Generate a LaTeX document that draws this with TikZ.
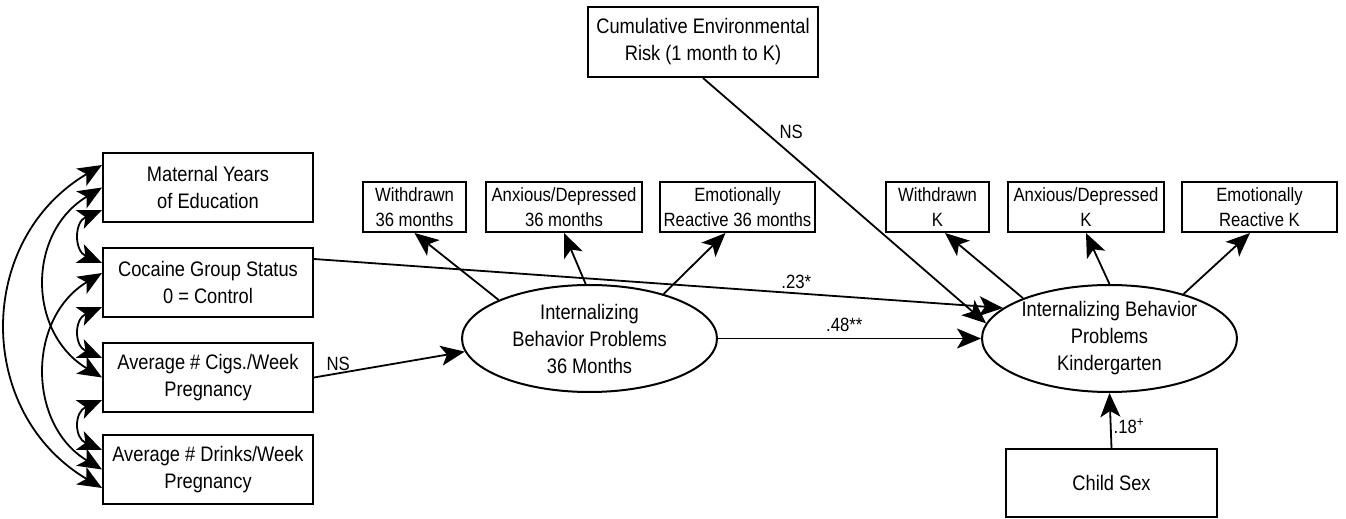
\documentclass[tikz,border=0pt]{standalone}
\usepackage{fontspec}
\setmainfont{Liberation Sans}[FakeStretch=0.87]
\usetikzlibrary{shapes.geometric,arrows.meta}

\begin{document}
\begin{tikzpicture}[x=0.5pt,y=-0.5pt]
	\tikzset{varbox/.style={draw,line width=1pt,align=center,inner sep=0pt,minimum width=105pt,minimum height=34.5pt,font=\fontsize{10.5}{13.5}\selectfont}}
	\tikzset{indbox/.style={draw,line width=1pt,align=center,inner sep=0pt,minimum height=25pt,font=\fontsize{9.6}{12.2}\selectfont}}
	\tikzset{latent/.style={draw,ellipse,line width=1pt,align=center,inner sep=0pt,minimum width=127.5pt,minimum height=53.5pt,font=\fontsize{10.5}{13.5}\selectfont}}
	\tikzset{semedge/.style={-{Stealth[length=12pt,width=10pt,inset=3pt]},line width=0.9pt}}
	\tikzset{corr/.style={{Stealth[length=12pt,width=10pt,inset=3pt]}-{Stealth[length=12pt,width=10pt,inset=3pt]},line width=0.9pt}}
	\tikzset{coef/.style={font=\fontsize{9.6}{11}\selectfont,inner sep=1pt}}

	\def\colx{208}
	\def\indy{207}

	\useasboundingbox (0,0) rectangle (1346,519);

	% NODES %
	%covariates
	\node[varbox] (mat) at (\colx,187.5) {Maternal Years\\of Education};
	\node[varbox] (coc) at (\colx,282.5) {Cocaine Group Status\\0 = Control};
	\node[varbox] (cig) at (\colx,377.5) {Average \# Cigs./Week\\Pregnancy};
	\node[varbox] (drk) at (\colx,469.5) {Average \# Drinks/Week\\Pregnancy};
	\node[varbox,minimum width=115pt,minimum height=35pt] (cum) at (703,42) {Cumulative Environmental\\Risk (1 month to K)};
	\node[varbox,minimum width=105.5pt,minimum height=34pt] (sex) at (1111.5,483) {Child Sex};

	%36 months
	\node[latent] (int36) at (589.5,338.5) {Internalizing\\Behavior Problems\\36 Months};
	\node[indbox,minimum width=51.5pt] (wd36) at (414.5,\indy) {Withdrawn\\36 months};
	\node[indbox,minimum width=78pt] (ad36) at (564,\indy) {Anxious/Depressed\\36 months};
	\node[indbox,minimum width=77.5pt] (er36) at (737.5,\indy) {Emotionally\\Reactive 36 months};

	%kindergarten
	\node[latent] (intK) at (1109.5,338.5) {Internalizing Behavior\\Problems\\Kindergarten};
	\node[indbox,minimum width=51.5pt] (wdK) at (937.5,\indy) {Withdrawn\\K};
	\node[indbox,minimum width=78pt] (adK) at (1086,\indy) {Anxious/Depressed\\K};
	\node[indbox,minimum width=77.5pt] (erK) at (1259.5,\indy) {Emotionally\\Reactive K};

	% EDGES %
	%correlations
	\draw[corr] ([yshift=11.25pt]mat.west) .. controls +(-127,75) and +(-127,-75) .. ([yshift=-9.25pt]drk.west);
	\draw[corr] (mat.west) .. controls +(-75,45) and +(-75,-45) .. (cig.west);
	\draw[corr] ([yshift=-11.25pt]mat.west) .. controls +(-28,12) and +(-28,-12) .. ([yshift=9.75pt]coc.west);
	\draw[corr] ([yshift=4.75pt]coc.west) .. controls +(-75,45) and +(-75,-45) .. (drk.west);
	\draw[corr] ([yshift=-12.25pt]coc.west) .. controls +(-28,12) and +(-28,-12) .. ([yshift=9.75pt]cig.west);
	\draw[corr] ([yshift=-11.25pt]cig.west) .. controls +(-28,12) and +(-28,-12) .. ([yshift=9.75pt]drk.west);

	%loadings
	\draw[semedge] (int36.157) -- (wd36.south);
	\draw[semedge] (int36.94) -- (ad36.south);
	\draw[semedge] (int36.31) -- ([xshift=-6pt]er36.south);
	\draw[semedge] (intK.155) -- ([xshift=3.75pt]wdK.south);
	\draw[semedge] (intK.90) -- (adK.south);
	\draw[semedge] (intK.31) -- ([xshift=-4.75pt]erK.south);

	%paths
	\draw[semedge] (cig.east) -- node[coef,pos=0.16,above] {NS} (int36.186);
	\draw[semedge] ([yshift=11.75pt]coc.east) -- node[coef,pos=0.7,above=1pt] {.23*} (intK.164);
	\draw[semedge] (int36.east) -- node[coef,pos=0.48,above=2pt] {.48**} (intK.west);
	\draw[semedge] (cum.south) -- node[coef,pos=0.26,above right] {NS} (intK.173);
	\draw[semedge] (sex.north) -- node[coef,pos=0.4,right] {.18\textsuperscript{+}} (intK.south);
\end{tikzpicture}
\end{document}
